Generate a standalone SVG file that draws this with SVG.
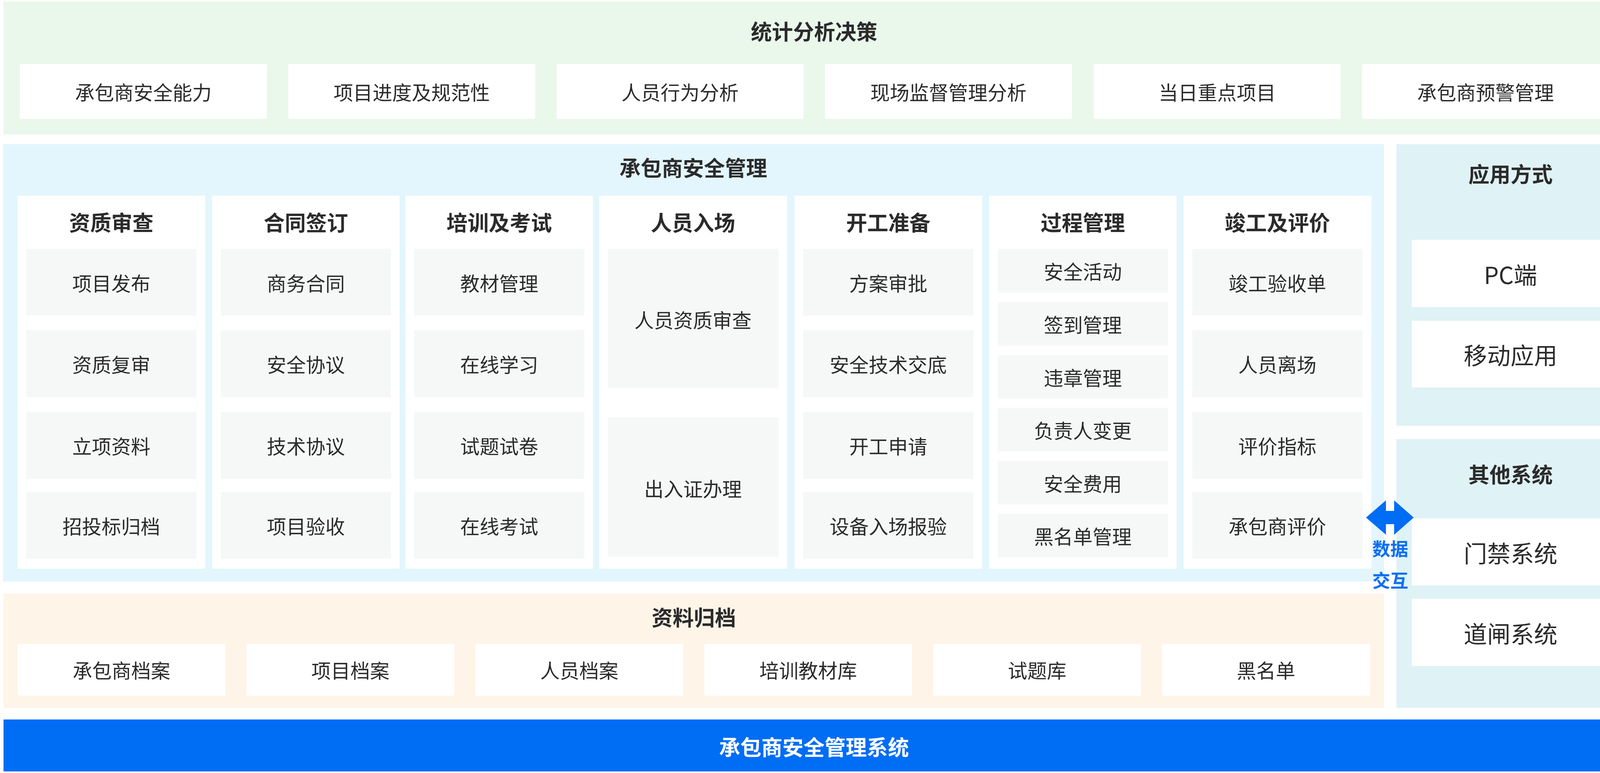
<svg xmlns="http://www.w3.org/2000/svg" width="4172" height="1979" viewBox="0 0 4172 1979">
<style>
text{font-family:"Noto Sans CJK SC","Noto Sans",sans-serif;text-anchor:middle;dominant-baseline:central;fill:#2b2b2b}
.t{font-size:54px;font-weight:bold}
.i{font-size:50px}
.r{font-size:60px}
.w{fill:#ffffff}
.g{fill:#f6f8f8}
.card{fill:#ffffff}
.blue{fill:#006df5}
.bt{font-size:46px;font-weight:bold;fill:#0a6ff2}
.wt{font-size:54px;font-weight:bold;fill:#ffffff}
</style>
<rect width="4172" height="1979" fill="#ffffff"/>

<g id="stats">
<rect x="9" y="4" width="4150" height="340" fill="#eaf8ec"/>
<text class="t" x="2084" y="78">统计分析决策</text>
<g id="stat1"><rect class="w" x="51" y="164" width="632" height="140"/><text class="i" x="367" y="234">承包商安全能力</text></g>
<g id="stat2"><rect class="w" x="738" y="164" width="632" height="140"/><text class="i" x="1054" y="234">项目进度及规范性</text></g>
<g id="stat3"><rect class="w" x="1425" y="164" width="632" height="140"/><text class="i" x="1741" y="234">人员行为分析</text></g>
<g id="stat4"><rect class="w" x="2112" y="164" width="632" height="140"/><text class="i" x="2428" y="234">现场监督管理分析</text></g>
<g id="stat5"><rect class="w" x="2800" y="164" width="632" height="140"/><text class="i" x="3116" y="234">当日重点项目</text></g>
<g id="stat6"><rect class="w" x="3487" y="164" width="632" height="140"/><text class="i" x="3803" y="234">承包商预警管理</text></g>
</g>

<g id="mgmt">
<rect x="8" y="369" width="3535" height="1120" fill="#e3f6fd"/>
<text class="t" x="1775" y="427">承包商安全管理</text>

<g id="col1">
<rect class="card" x="45" y="501" width="480" height="955"/>
<text class="t" x="285" y="567">资质审查</text>
<rect class="g" x="67" y="637" width="436" height="171"/><text class="i" x="285" y="723">项目发布</text>
<rect class="g" x="67" y="845" width="436" height="172"/><text class="i" x="285" y="931">资质复审</text>
<rect class="g" x="67" y="1054" width="436" height="172"/><text class="i" x="285" y="1140">立项资料</text>
<rect class="g" x="67" y="1259" width="436" height="171"/><text class="i" x="285" y="1345">招投标归档</text>
</g>

<g id="col2">
<rect class="card" x="543" y="501" width="480" height="955"/>
<text class="t" x="783" y="567">合同签订</text>
<rect class="g" x="565" y="637" width="436" height="171"/><text class="i" x="783" y="723">商务合同</text>
<rect class="g" x="565" y="845" width="436" height="172"/><text class="i" x="783" y="931">安全协议</text>
<rect class="g" x="565" y="1054" width="436" height="172"/><text class="i" x="783" y="1140">技术协议</text>
<rect class="g" x="565" y="1259" width="436" height="171"/><text class="i" x="783" y="1345">项目验收</text>
</g>

<g id="col3">
<rect class="card" x="1038" y="501" width="480" height="955"/>
<text class="t" x="1278" y="567">培训及考试</text>
<rect class="g" x="1060" y="637" width="436" height="171"/><text class="i" x="1278" y="723">教材管理</text>
<rect class="g" x="1060" y="845" width="436" height="172"/><text class="i" x="1278" y="931">在线学习</text>
<rect class="g" x="1060" y="1054" width="436" height="172"/><text class="i" x="1278" y="1140">试题试卷</text>
<rect class="g" x="1060" y="1259" width="436" height="171"/><text class="i" x="1278" y="1345">在线考试</text>
</g>

<g id="col4">
<rect class="card" x="1534" y="501" width="481" height="955"/>
<text class="t" x="1774" y="567">人员入场</text>
<rect class="g" x="1556" y="637" width="437" height="357"/><text class="i" x="1774" y="817">人员资质审查</text>
<rect class="g" x="1556" y="1069" width="437" height="356"/><text class="i" x="1774" y="1249">出入证办理</text>
</g>

<g id="col5">
<rect class="card" x="2034" y="501" width="480" height="955"/>
<text class="t" x="2274" y="567">开工准备</text>
<rect class="g" x="2056" y="637" width="436" height="171"/><text class="i" x="2274" y="723">方案审批</text>
<rect class="g" x="2056" y="845" width="436" height="172"/><text class="i" x="2274" y="931">安全技术交底</text>
<rect class="g" x="2056" y="1054" width="436" height="172"/><text class="i" x="2274" y="1140">开工申请</text>
<rect class="g" x="2056" y="1259" width="436" height="171"/><text class="i" x="2274" y="1345">设备入场报验</text>
</g>

<g id="col6">
<rect class="card" x="2532" y="501" width="480" height="955"/>
<text class="t" x="2772" y="567">过程管理</text>
<rect class="g" x="2554" y="637" width="436" height="112"/><text class="i" x="2772" y="693">安全活动</text>
<rect class="g" x="2554" y="773" width="436" height="112"/><text class="i" x="2772" y="829">签到管理</text>
<rect class="g" x="2554" y="909" width="436" height="112"/><text class="i" x="2772" y="965">违章管理</text>
<rect class="g" x="2554" y="1044" width="436" height="112"/><text class="i" x="2772" y="1100">负责人变更</text>
<rect class="g" x="2554" y="1180" width="436" height="112"/><text class="i" x="2772" y="1236">安全费用</text>
<rect class="g" x="2554" y="1315" width="436" height="112"/><text class="i" x="2772" y="1371">黑名单管理</text>
</g>

<g id="col7">
<rect class="card" x="3030" y="501" width="481" height="955"/>
<text class="t" x="3270" y="567">竣工及评价</text>
<rect class="g" x="3052" y="637" width="436" height="171"/><text class="i" x="3270" y="723">竣工验收单</text>
<rect class="g" x="3052" y="845" width="436" height="172"/><text class="i" x="3270" y="931">人员离场</text>
<rect class="g" x="3052" y="1054" width="436" height="172"/><text class="i" x="3270" y="1140">评价指标</text>
<rect class="g" x="3052" y="1259" width="436" height="171"/><text class="i" x="3270" y="1345">承包商评价</text>
</g>
</g>

<g id="archive">
<rect x="9" y="1520" width="3534" height="292" fill="#fef4e7"/>
<text class="t" x="1776" y="1578">资料归档</text>
<g id="arc1"><rect class="w" x="45" y="1648" width="532" height="133"/><text class="i" x="311" y="1714">承包商档案</text></g>
<g id="arc2"><rect class="w" x="631" y="1648" width="532" height="133"/><text class="i" x="897" y="1714">项目档案</text></g>
<g id="arc3"><rect class="w" x="1217" y="1648" width="532" height="133"/><text class="i" x="1483" y="1714">人员档案</text></g>
<g id="arc4"><rect class="w" x="1803" y="1648" width="532" height="133"/><text class="i" x="2069" y="1714">培训教材库</text></g>
<g id="arc5"><rect class="w" x="2389" y="1648" width="532" height="133"/><text class="i" x="2655" y="1714">试题库</text></g>
<g id="arc6"><rect class="w" x="2975" y="1648" width="532" height="133"/><text class="i" x="3241" y="1714">黑名单</text></g>
</g>

<g id="apps">
<rect x="3575" y="369" width="584" height="721" fill="#dff2f5"/>
<text class="t" x="3867" y="443">应用方式</text>
<g id="pc"><rect class="w" x="3614" y="614" width="505" height="172"/><text class="r" x="3867" y="700">PC端</text></g>
<g id="mobile"><rect class="w" x="3614" y="821" width="505" height="171"/><text class="r" x="3867" y="906">移动应用</text></g>
</g>

<g id="others">
<rect x="3575" y="1124" width="584" height="688" fill="#dff2f5"/>
<text class="t" x="3867" y="1212">其他系统</text>
<g id="door"><rect class="w" x="3614" y="1327" width="505" height="172"/><text class="r" x="3867" y="1413">门禁系统</text></g>
<g id="gate"><rect class="w" x="3614" y="1533" width="505" height="172"/><text class="r" x="3867" y="1619">道闸系统</text></g>
</g>

<g id="system">
<rect class="blue" x="9" y="1842" width="4150" height="133"/>
<text class="wt" x="2084" y="1910">承包商安全管理系统</text>
</g>

<g id="connectors">
<path class="blue" d="M3497,1325 L3548,1281 L3548,1308 L3569,1308 L3569,1281 L3619,1325 L3569,1369 L3569,1342 L3548,1342 L3548,1369 Z"/>
<text class="bt" x="3559" y="1402">数据</text>
<text class="bt" x="3559" y="1483">交互</text>
</g>
</svg>
